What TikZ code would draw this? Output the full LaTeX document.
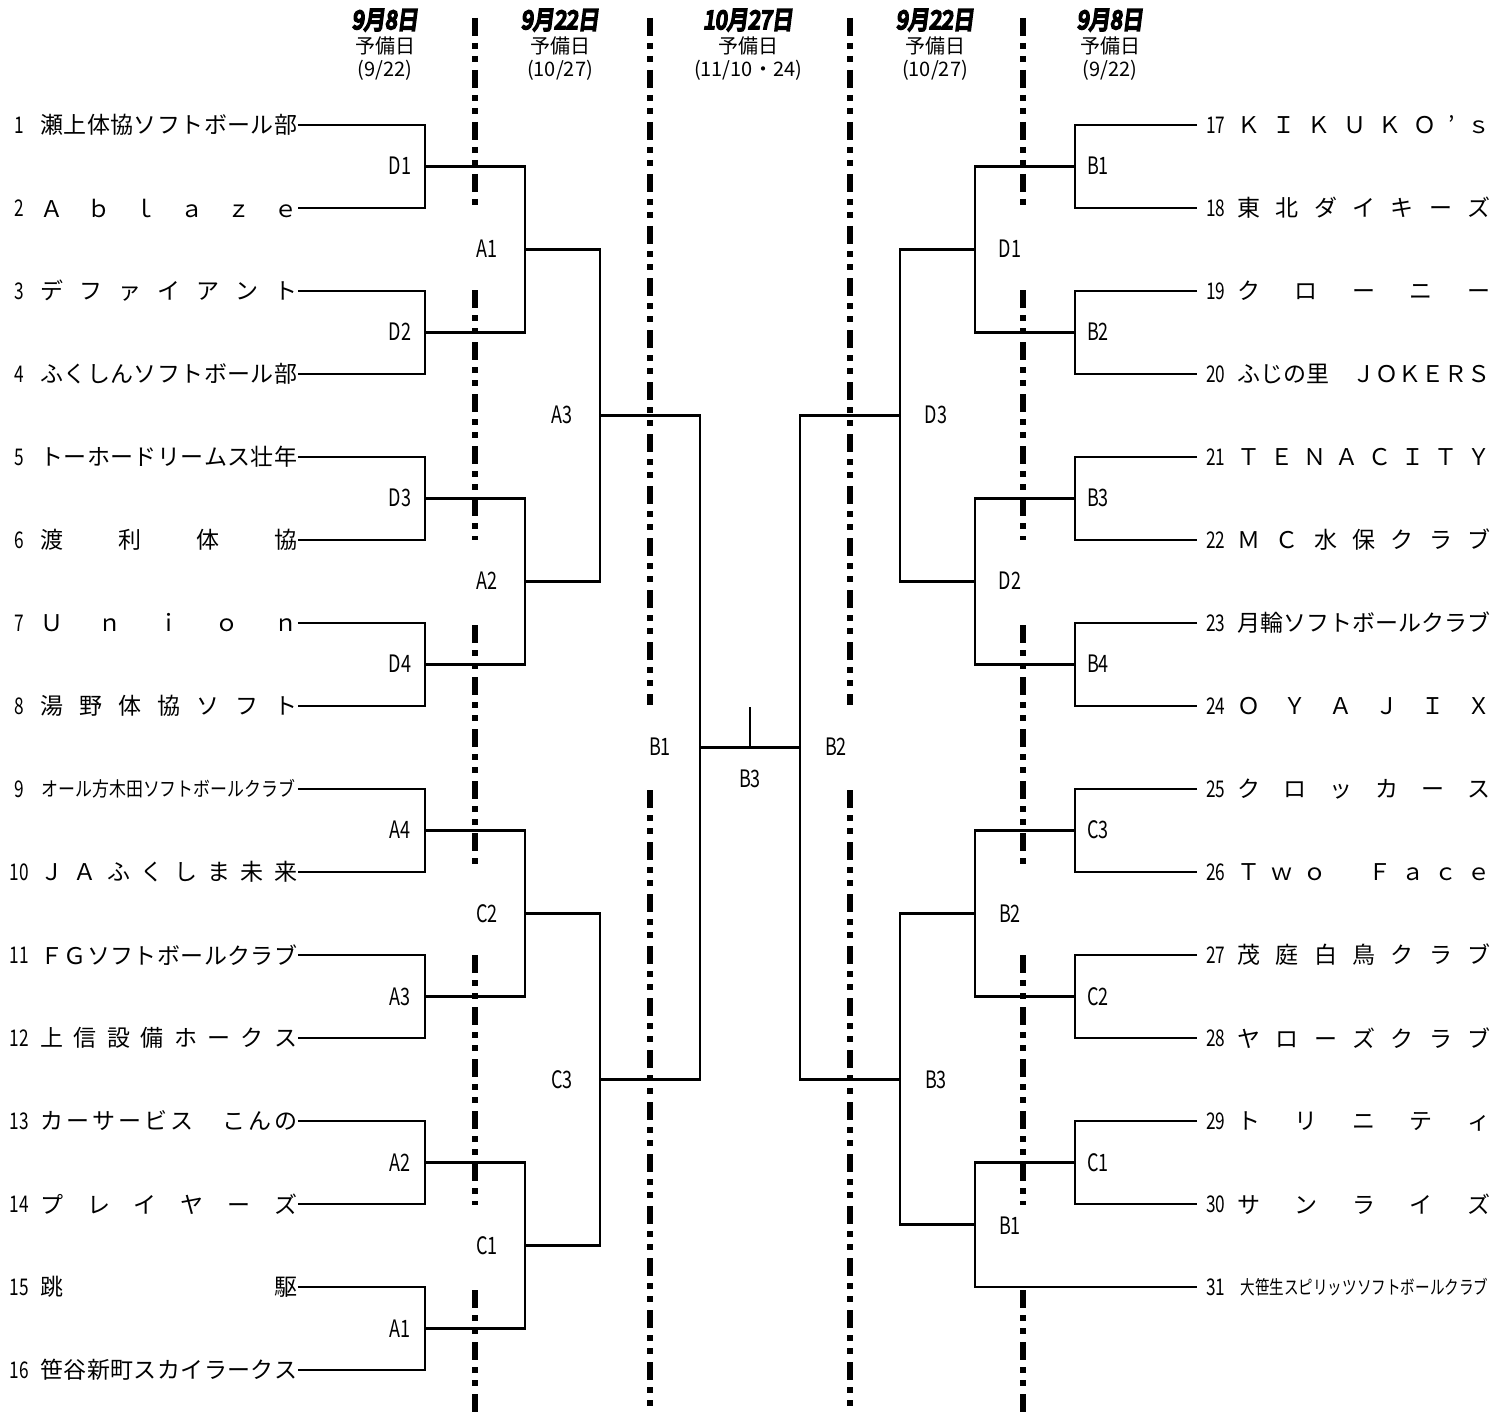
\documentclass[tikz,border=0pt]{standalone}
\usepackage{fontspec}
\usepackage{graphicx}
\setmainfont{Noto Sans CJK JP}
\newfontfamily\datefont[FakeBold=9,FakeSlant=0.15]{Noto Sans CJK JP}
\def\sprdend{}
\def\sprd#1{\sprdA#1\sprdend}
\def\sprdA#1{\ifx#1\sprdend\else#1\expandafter\sprdB\fi}
\def\sprdB#1{\ifx#1\sprdend\else\hfill#1\expandafter\sprdB\fi}
\newcommand\LN[1]{\makebox[128.5pt][s]{\sprd{#1}}}
\newcommand\RN[1]{\makebox[126.5pt][s]{\sprd{#1}}}
\newcommand\rl[1]{\scalebox{0.75}[1]{#1}}
\newcommand\nm[1]{\scalebox{0.75}[1]{#1}}
\newcommand\hd[1]{\scalebox{0.85}[1]{#1}}
\begin{document}
\begin{tikzpicture}[x=0.5pt,y=-0.5pt,
  br/.style={line width=1.4pt},
  dd/.style={line width=2.6pt, dash pattern=on 9pt off 3.5pt on 3pt off 3.5pt on 3pt off 4pt},
  tn/.style={inner sep=0pt, anchor=west, font=\fontsize{11.5pt}{13pt}\selectfont},
  nmL/.style={inner sep=0pt, font=\fontsize{11.5pt}{13pt}\selectfont},
  nmR/.style={inner xsep=4.5pt, inner ysep=0pt, anchor=west, font=\fontsize{11.5pt}{13pt}\selectfont},
  lb/.style={inner sep=0pt, font=\fontsize{12pt}{13pt}\selectfont},
  hdate/.style={inner sep=0pt, font=\datefont\fontsize{12.5pt}{13pt}\selectfont},
  hsub/.style={inner sep=0pt, font=\fontsize{10pt}{11pt}\selectfont}]
\useasboundingbox (0,0) rectangle (1497,1412);

% ---- header ----
\node[hdate] (d1) at (385,20) {\hd{9月8日}};
\node[hsub] (s1) at (385,46) {予備日};
\node[hsub] (p1) at (385,70) {(9/22)};
\node[hdate] (d2) at (560,20) {\hd{9月22日}};
\node[hsub] (s2) at (560,46) {予備日};
\node[hsub] (p2) at (560,70) {(10/27)};
\node[hdate] (d3) at (748,20) {\hd{10月27日}};
\node[hsub] (s3) at (748,46) {予備日};
\node[hsub] (p3) at (748,70) {(11/10・24)};
\node[hdate] (d4) at (935,20) {\hd{9月22日}};
\node[hsub] (s4) at (935,46) {予備日};
\node[hsub] (p4) at (935,70) {(10/27)};
\node[hdate] (d5) at (1110,20) {\hd{9月8日}};
\node[hsub] (s5) at (1110,46) {予備日};
\node[hsub] (p5) at (1110,70) {(9/22)};

% ---- dash-dot day separators ----
\foreach \xx in {475,1023}{
  \draw[dd] (\xx,18) -- (\xx,205);
  \draw[dd] (\xx,290) -- (\xx,540);
  \draw[dd] (\xx,625) -- (\xx,870);
  \draw[dd] (\xx,955) -- (\xx,1205);
  \draw[dd] (\xx,1290) -- (\xx,1412);
}
\foreach \xx in {650,850}{
  \draw[dd] (\xx,18) -- (\xx,705);
  \draw[dd] (\xx,790) -- (\xx,1412);
}

% ---- left teams ----
\node[nmL] (nL1) at (19,125) {\nm{1}};   \node[tn] (L1) at (40,125) {\LN{瀬上体協ソフトボール部}};
\node[nmL] (nL2) at (19,208) {\nm{2}};   \node[tn] (L2) at (40,208) {\LN{Ａｂｌａｚｅ}};
\node[nmL] (nL3) at (19,291) {\nm{3}};   \node[tn] (L3) at (40,291) {\LN{デファイアント}};
\node[nmL] (nL4) at (19,374) {\nm{4}};   \node[tn] (L4) at (40,374) {\LN{ふくしんソフトボール部}};
\node[nmL] (nL5) at (19,457) {\nm{5}};   \node[tn] (L5) at (40,457) {\LN{トーホードリームス壮年}};
\node[nmL] (nL6) at (19,540) {\nm{6}};   \node[tn] (L6) at (40,540) {\LN{渡利体協}};
\node[nmL] (nL7) at (19,623) {\nm{7}};   \node[tn] (L7) at (40,623) {\LN{Ｕｎｉｏｎ}};
\node[nmL] (nL8) at (19,706) {\nm{8}};   \node[tn] (L8) at (40,706) {\LN{湯野体協ソフト}};
\node[nmL] (nL9) at (19,789) {\nm{9}};   \node[tn] (L9) at (41,789) {\resizebox{127pt}{\height}{\fontsize{10pt}{12pt}\selectfont オール方木田ソフトボールクラブ}};
\node[nmL] (nL10) at (19,872) {\nm{10}}; \node[tn] (L10) at (40,872) {\LN{ＪＡふくしま未来}};
\node[nmL] (nL11) at (19,955) {\nm{11}}; \node[tn] (L11) at (40,955) {\LN{ＦＧソフトボールクラブ}};
\node[nmL] (nL12) at (19,1038) {\nm{12}}; \node[tn] (L12) at (40,1038) {\LN{上信設備ホークス}};
\node[nmL] (nL13) at (19,1121) {\nm{13}}; \node[tn] (L13) at (40,1121) {\LN{カーサービス　こんの}};
\node[nmL] (nL14) at (19,1204) {\nm{14}}; \node[tn] (L14) at (40,1204) {\LN{プレイヤーズ}};
\node[nmL] (nL15) at (19,1287) {\nm{15}}; \node[tn] (L15) at (40,1287) {\LN{跳駆}};
\node[nmL] (nL16) at (19,1370) {\nm{16}}; \node[tn] (L16) at (40,1370) {\LN{笹谷新町スカイラークス}};

% ---- right teams ----
\node[nmR] (N17) at (1197,125) {\nm{17}};  \node[tn] (R17) at (1237,125) {\RN{ＫＩＫＵＫＯ’ｓ}};
\node[nmR] (N18) at (1197,208) {\nm{18}};  \node[tn] (R18) at (1237,208) {\RN{東北ダイキーズ}};
\node[nmR] (N19) at (1197,291) {\nm{19}};  \node[tn] (R19) at (1237,291) {\RN{クローニー}};
\node[nmR] (N20) at (1197,374) {\nm{20}};  \node[tn] (R20) at (1237,374) {\RN{ふじの里　ＪＯＫＥＲＳ}};
\node[nmR] (N21) at (1197,457) {\nm{21}};  \node[tn] (R21) at (1237,457) {\RN{ＴＥＮＡＣＩＴＹ}};
\node[nmR] (N22) at (1197,540) {\nm{22}};  \node[tn] (R22) at (1237,540) {\RN{ＭＣ水保クラブ}};
\node[nmR] (N23) at (1197,623) {\nm{23}};  \node[tn] (R23) at (1237,623) {\RN{月輪ソフトボールクラブ}};
\node[nmR] (N24) at (1197,706) {\nm{24}};  \node[tn] (R24) at (1237,706) {\RN{ＯＹＡＪＩＸ}};
\node[nmR] (N25) at (1197,789) {\nm{25}};  \node[tn] (R25) at (1237,789) {\RN{クロッカース}};
\node[nmR] (N26) at (1197,872) {\nm{26}};  \node[tn] (R26) at (1237,872) {\RN{Ｔｗｏ　Ｆａｃｅ}};
\node[nmR] (N27) at (1197,955) {\nm{27}};  \node[tn] (R27) at (1237,955) {\RN{茂庭白鳥クラブ}};
\node[nmR] (N28) at (1197,1038) {\nm{28}}; \node[tn] (R28) at (1237,1038) {\RN{ヤローズクラブ}};
\node[nmR] (N29) at (1197,1121) {\nm{29}}; \node[tn] (R29) at (1237,1121) {\RN{トリニティ}};
\node[nmR] (N30) at (1197,1204) {\nm{30}}; \node[tn] (R30) at (1237,1204) {\RN{サンライズ}};
\node[nmR] (N31) at (1197,1287) {\nm{31}}; \node[tn] (R31) at (1240,1287) {\resizebox{124pt}{\height}{\fontsize{9.5pt}{11pt}\selectfont 大笹生スピリッツソフトボールクラブ}};

% ---- junction coordinates ----
\coordinate (a1) at (425,166.5);  \coordinate (a2) at (425,332.5);
\coordinate (a3) at (425,498.5);  \coordinate (a4) at (425,664.5);
\coordinate (a5) at (425,830.5);  \coordinate (a6) at (425,996.5);
\coordinate (a7) at (425,1162.5); \coordinate (a8) at (425,1328.5);
\coordinate (b1) at (525,249.5);  \coordinate (b2) at (525,581.5);
\coordinate (b3) at (525,913.5);  \coordinate (b4) at (525,1245.5);
\coordinate (c1) at (600,415.5);  \coordinate (c2) at (600,1079.5);
\coordinate (f1) at (700,747.5);  \coordinate (f2) at (800,747.5);
\coordinate (tb) at (750,747.5);  \coordinate (tk) at (750,707);
\coordinate (c3) at (900,415.5);  \coordinate (c4) at (900,1079.5);
\coordinate (b5) at (975,249.5);  \coordinate (b6) at (975,581.5);
\coordinate (b7) at (975,913.5);  \coordinate (b8) at (975,1224.75);
\coordinate (a9) at (1075,166.5);  \coordinate (a10) at (1075,332.5);
\coordinate (a11) at (1075,498.5); \coordinate (a12) at (1075,664.5);
\coordinate (a13) at (1075,830.5); \coordinate (a14) at (1075,996.5);
\coordinate (a15) at (1075,1162.5);

% ---- left brackets ----
\draw[br] (L1.east) -| (a1) |- (L2.east);
\draw[br] (L3.east) -| (a2) |- (L4.east);
\draw[br] (L5.east) -| (a3) |- (L6.east);
\draw[br] (L7.east) -| (a4) |- (L8.east);
\draw[br] (L9.east -| L1.east) -| (a5) |- (L10.east);
\draw[br] (L11.east) -| (a6) |- (L12.east);
\draw[br] (L13.east) -| (a7) |- (L14.east);
\draw[br] (L15.east) -| (a8) |- (L16.east);
\draw[br] (a1) -| (b1) |- (a2);
\draw[br] (a3) -| (b2) |- (a4);
\draw[br] (a5) -| (b3) |- (a6);
\draw[br] (a7) -| (b4) |- (a8);
\draw[br] (b1) -| (c1) |- (b2);
\draw[br] (b3) -| (c2) |- (b4);
\draw[br] (c1) -| (f1) |- (c2);

% ---- final ----
\draw[br] (f1) -- (f2);
\draw[br] (tb) -- (tk);

% ---- right brackets ----
\draw[br] (c3) -| (f2) |- (c4);
\draw[br] (b5) -| (c3) |- (b6);
\draw[br] (b7) -| (c4) |- (b8);
\draw[br] (a9) -| (b5) |- (a10);
\draw[br] (a11) -| (b6) |- (a12);
\draw[br] (a13) -| (b7) |- (a14);
\draw[br] (a15) -| (b8) |- (N31.west);
\draw[br] (N17.west) -| (a9) |- (N18.west);
\draw[br] (N19.west) -| (a10) |- (N20.west);
\draw[br] (N21.west) -| (a11) |- (N22.west);
\draw[br] (N23.west) -| (a12) |- (N24.west);
\draw[br] (N25.west) -| (a13) |- (N26.west);
\draw[br] (N27.west) -| (a14) |- (N28.west);
\draw[br] (N29.west) -| (a15) |- (N30.west);

% ---- match labels ----
\node[lb] (lD1) at (400,166) {\rl{D1}};
\node[lb] (lD2) at (400,332) {\rl{D2}};
\node[lb] (lD3) at (400,498) {\rl{D3}};
\node[lb] (lD4) at (400,664) {\rl{D4}};
\node[lb] (lA4) at (400,830) {\rl{A4}};
\node[lb] (lA3) at (400,997) {\rl{A3}};
\node[lb] (lA2) at (400,1163) {\rl{A2}};
\node[lb] (lA1) at (400,1329) {\rl{A1}};
\node[lb] (mA1) at (487,249) {\rl{A1}};
\node[lb] (mA2) at (487,581) {\rl{A2}};
\node[lb] (mC2) at (487,914) {\rl{C2}};
\node[lb] (mC1) at (487,1246) {\rl{C1}};
\node[lb] (qA3) at (562,415) {\rl{A3}};
\node[lb] (qC3) at (562,1080) {\rl{C3}};
\node[lb] (fB1) at (660,747) {\rl{B1}};
\node[lb] (fB3) at (750,779) {\rl{B3}};
\node[lb] (fB2) at (836,747) {\rl{B2}};
\node[lb] (qD3) at (936,415) {\rl{D3}};
\node[lb] (qB3) at (936,1080) {\rl{B3}};
\node[lb] (mD1) at (1010,249) {\rl{D1}};
\node[lb] (mD2) at (1010,581) {\rl{D2}};
\node[lb] (mB2) at (1010,914) {\rl{B2}};
\node[lb] (mB1) at (1010,1226) {\rl{B1}};
\node[lb] (rB1) at (1098,166) {\rl{B1}};
\node[lb] (rB2) at (1098,332) {\rl{B2}};
\node[lb] (rB3) at (1098,498) {\rl{B3}};
\node[lb] (rB4) at (1098,664) {\rl{B4}};
\node[lb] (rC3) at (1098,830) {\rl{C3}};
\node[lb] (rC2) at (1098,997) {\rl{C2}};
\node[lb] (rC1) at (1098,1163) {\rl{C1}};
\end{tikzpicture}
\end{document}
